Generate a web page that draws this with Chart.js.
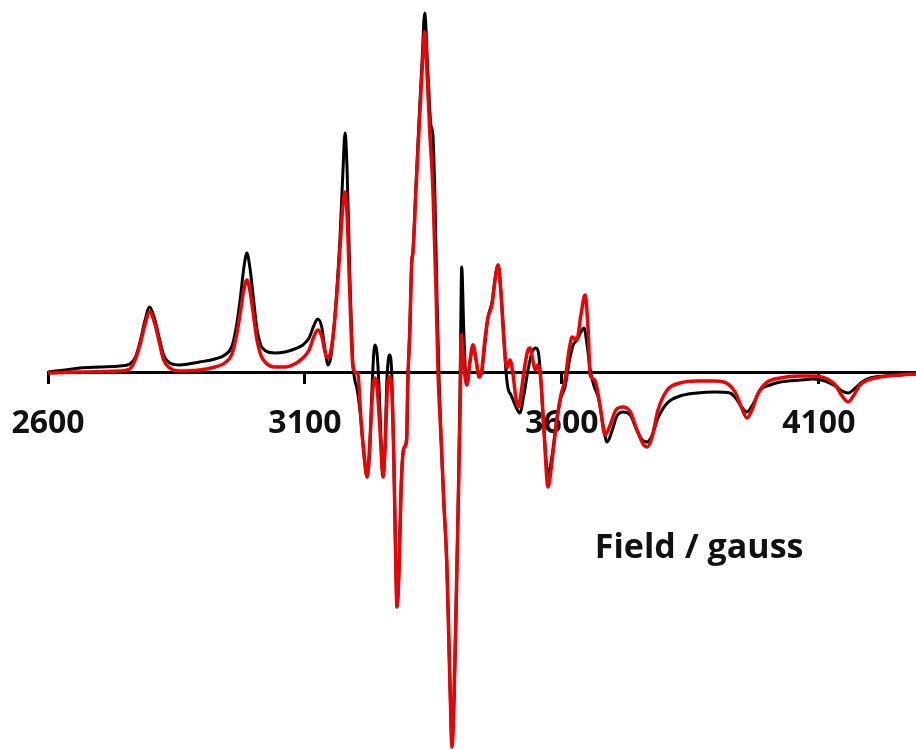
<!DOCTYPE html>
<html>
<head>
<meta charset="utf-8">
<title>EPR spectrum</title>
<script src="https://cdn.jsdelivr.net/npm/chart.js@4.4.1/dist/chart.umd.min.js"></script>
<style>
  html, body { margin: 0; padding: 0; background: #fff; }
  #wrap { width: 916px; height: 750px; }
</style>
</head>
<body>
<div id="wrap"><canvas id="epr" width="916" height="750"></canvas></div>
<script>
// Field axis (gauss) and labelled ticks
const FIELD_MIN = 2600;
const FIELD_MAX = 4289;
const tickValues = [2600, 3100, 3600, 4100];
const axisTitle = "Field / gauss";

// signal in arbitrary units, 0 = baseline
const SIGNAL_MIN = -377;
const SIGNAL_MAX = 373;

// black trace
const blackField = [
  2600, 2633, 2662, 2701, 2740, 2759, 2771, 2780, 2788, 2798, 2808, 2816, 2825, 2837, 2856,
  2895, 2925, 2944, 2958, 2967, 2975, 2981, 2987, 2993, 2999, 3006, 3014, 3024, 3041, 3061,
  3080, 3096, 3108, 3117, 3125, 3133, 3139, 3145, 3150, 3156, 3162, 3168, 3174, 3178, 3182,
  3187, 3193, 3197, 3201, 3207, 3215, 3221, 3226, 3230, 3234, 3236, 3240, 3244, 3248, 3252,
  3256, 3259, 3263, 3265, 3269, 3273, 3277, 3279, 3283, 3287, 3291, 3294, 3298, 3300, 3304,
  3308, 3310, 3316, 3322, 3328, 3333, 3339, 3345, 3349, 3353, 3357, 3361, 3365, 3370, 3376,
  3380, 3384, 3386, 3390, 3394, 3398, 3402, 3404, 3405, 3409, 3413, 3415, 3421, 3427, 3433,
  3439, 3444, 3450, 3456, 3464, 3470, 3476, 3481, 3487, 3491, 3495, 3501, 3509, 3518, 3526,
  3534, 3542, 3550, 3555, 3559, 3565, 3573, 3581, 3590, 3598, 3606, 3614, 3622, 3629, 3637,
  3643, 3649, 3655, 3662, 3672, 3680, 3688, 3698, 3707, 3719, 3733, 3744, 3756, 3766, 3775,
  3787, 3805, 3830, 3863, 3898, 3927, 3941, 3951, 3960, 3972, 3986, 4005, 4025, 4064, 4089,
  4112, 4132, 4145, 4157, 4171, 4184, 4200, 4229, 4258, 4289
];
const blackSignal = [
  1, 3, 5, 6, 7, 9, 17, 33, 51, 66, 53, 36, 18, 10, 8,
  11, 14, 18, 27, 48, 78, 105, 120, 105, 78, 46, 28, 22, 20, 21,
  24, 28, 35, 47, 54, 45, 23, 8, 15, 43, 83, 133, 203, 240, 203,
  103, 13, -7, -15, -37, -82, -104, -77, -22, 21, 28, 21, -12, -67, -104,
  -72, -12, 16, 18, -2, -87, -197, -234, -197, -117, -79, -74, -62, -12, 43,
  113, 120, 188, 253, 313, 360, 303, 248, 238, 173, 73, -7, -67, -127, -190,
  -267, -347, -372, -327, -237, -137, -7, 83, 106, 43, -7, -12, 11, 28, 13,
  -4, 1, 28, 55, 71, 95, 108, 83, 38, 3, -15, -22, -32, -40, -22,
  3, 21, 25, 18, -7, -57, -102, -82, -47, -25, -14, 11, 28, 33, 41,
  45, 28, 3, -12, -27, -52, -69, -57, -43, -39, -42, -55, -67, -69, -63,
  -45, -30, -23, -20, -19, -20, -27, -35, -39, -31, -17, -12, -9, -7, -6,
  -8, -13, -18, -20, -15, -9, -5, -3, -2, -1
];

// red trace
const redField = [
  2600, 2662, 2740, 2759, 2771, 2780, 2788, 2798, 2808, 2816, 2825, 2837, 2856, 2895, 2925,
  2944, 2958, 2967, 2975, 2981, 2987, 2993, 2999, 3006, 3014, 3024, 3041, 3061, 3080, 3096,
  3108, 3117, 3125, 3133, 3139, 3145, 3150, 3156, 3162, 3168, 3174, 3178, 3182, 3187, 3193,
  3197, 3203, 3209, 3215, 3221, 3226, 3232, 3236, 3240, 3246, 3252, 3256, 3261, 3265, 3269,
  3273, 3277, 3279, 3283, 3287, 3291, 3294, 3298, 3300, 3304, 3308, 3310, 3316, 3322, 3328,
  3333, 3339, 3343, 3349, 3355, 3359, 3365, 3370, 3376, 3380, 3384, 3386, 3390, 3394, 3398,
  3402, 3404, 3407, 3411, 3415, 3421, 3427, 3433, 3439, 3444, 3450, 3456, 3464, 3470, 3476,
  3481, 3487, 3493, 3499, 3505, 3511, 3515, 3520, 3528, 3534, 3538, 3544, 3548, 3553, 3559,
  3565, 3573, 3581, 3590, 3598, 3606, 3614, 3620, 3629, 3637, 3645, 3651, 3655, 3664, 3674,
  3684, 3694, 3705, 3719, 3733, 3746, 3758, 3766, 3775, 3787, 3805, 3830, 3863, 3898, 3923,
  3937, 3949, 3960, 3970, 3982, 3997, 4025, 4064, 4089, 4112, 4132, 4145, 4157, 4167, 4180,
  4196, 4219, 4258, 4289
];
const redSignal = [
  0, 1, 2, 4, 15, 30, 47, 61, 49, 32, 13, 5, 2, 3, 6,
  10, 19, 38, 63, 83, 93, 82, 61, 35, 18, 10, 6, 6, 9, 15,
  23, 36, 43, 36, 21, 15, 21, 43, 78, 123, 168, 181, 158, 83, 8,
  1, -1, -47, -82, -104, -72, -17, -5, -12, -57, -104, -72, -12, -4, -17,
  -87, -197, -234, -197, -117, -79, -74, -67, -12, 43, 113, 120, 183, 243, 303,
  341, 283, 240, 183, 83, 0, -67, -127, -190, -267, -347, -374, -327, -237, -137,
  -37, 38, 23, -2, -12, 11, 28, 13, -4, 3, 33, 55, 68, 93, 108,
  83, 33, 5, 13, -2, -27, -34, -22, 8, 23, 25, 11, 3, 8, -7,
  -57, -114, -87, -47, -22, -7, 23, 36, 33, 58, 78, 43, -2, -7, -32,
  -62, -52, -37, -34, -39, -57, -71, -74, -65, -37, -17, -10, -8, -8, -11,
  -19, -34, -45, -37, -20, -10, -5, -3, -3, -5, -12, -23, -29, -23, -12,
  -7, -4, -2, -1
];

// where the axis title sits (in data units)
const titleAt = { field: 3867, signal: -175 };

const toPoints = (xs, ys) => xs.map((x, i) => ({ x, y: ys[i] }));

const axisTitlePlugin = {
  id: "axisTitle",
  afterDraw(chart) {
    const { ctx, scales } = chart;
    ctx.save();
    ctx.font = "bold 34px 'Open Sans'";
    ctx.fillStyle = "#111";
    ctx.textAlign = "center";
    ctx.textBaseline = "middle";
    ctx.fillText(axisTitle, scales.x.getPixelForValue(titleAt.field), scales.y.getPixelForValue(titleAt.signal));
    ctx.restore();
  },
};

new Chart(document.getElementById("epr"), {
  type: "line",
  data: {
    datasets: [
      {
        label: "red",
        data: toPoints(redField, redSignal),
        borderColor: "#f00000",
        borderWidth: 3.5,
        pointRadius: 0,
        cubicInterpolationMode: "monotone",
        fill: false,
      },
      {
        label: "black",
        data: toPoints(blackField, blackSignal),
        borderColor: "#000",
        borderWidth: 3,
        pointRadius: 0,
        cubicInterpolationMode: "monotone",
        fill: false,
      },
    ],
  },
  options: {
    responsive: false,
    animation: false,
    layout: { padding: { left: 48, right: 0, top: 0, bottom: 0 } },
    plugins: { legend: { display: false }, tooltip: { enabled: false } },
    scales: {
      x: {
        type: "linear",
        min: FIELD_MIN,
        max: FIELD_MAX,
        position: { y: 0 },
        afterBuildTicks: (scale) => {
          scale.ticks = tickValues.map((v) => ({ value: v }));
        },
        // axis sits inside the plot, so it should not eat any layout space
        afterFit: (scale) => {
          scale.height = 0;
          scale.paddingLeft = 0;
          scale.paddingRight = 0;
        },
        grid: { display: true, drawOnChartArea: false, drawTicks: true, tickLength: 10, tickWidth: 3, tickColor: "#000" },
        border: { display: true, color: "#000", width: 3 },
        ticks: {
          color: "#111",
          font: { family: "'Open Sans'", size: 32, weight: "bold" },
          padding: 22,
          maxRotation: 0,
          autoSkip: false,
          callback: (v) => String(v),
        },
      },
      y: {
        display: false,
        min: SIGNAL_MIN,
        max: SIGNAL_MAX,
      },
    },
  },
  plugins: [axisTitlePlugin],
});
</script>
</body>
</html>
